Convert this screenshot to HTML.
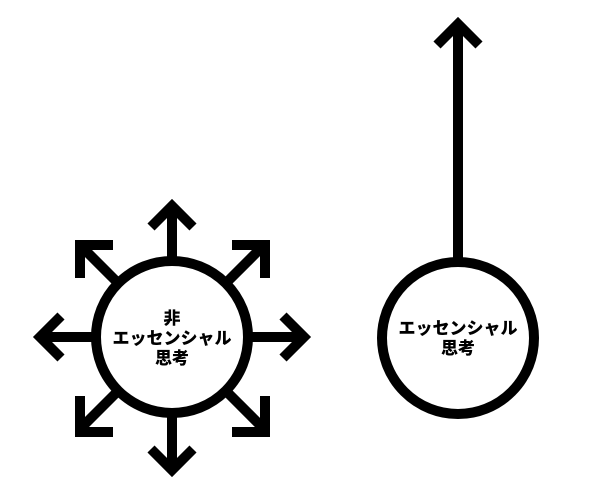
<!DOCTYPE html>
<html><head><meta charset="utf-8"><style>
html,body{margin:0;padding:0;background:#fff;}
svg{display:block}
text{font-family:"Liberation Sans","Noto Sans CJK JP",sans-serif;font-weight:900;font-size:17px;fill:#000;text-anchor:middle}
</style></head><body>
<svg width="600" height="500" viewBox="0 0 600 500">
<g stroke="#000" stroke-width="10" fill="none" stroke-linecap="butt" stroke-linejoin="miter">
<line x1="172" y1="261" x2="172" y2="208"/>
<polyline points="151,227 172,206 193,227"/>
<line x1="172" y1="413" x2="172" y2="468"/>
<polyline points="151,449 172,470 193,449"/>
<line x1="96" y1="337" x2="42" y2="337"/>
<polyline points="61,316 40,337 61,358"/>
<line x1="248" y1="337" x2="302" y2="337"/>
<polyline points="283,316 304,337 283,358"/>
<line x1="118" y1="283" x2="82" y2="247"/>
<polyline points="80,278 80,245 113,245"/>
<line x1="226" y1="283" x2="262" y2="247"/>
<polyline points="232,245 265,245 265,278"/>
<line x1="118" y1="391" x2="82" y2="427"/>
<polyline points="80,396 80,432 113,432"/>
<line x1="226" y1="391" x2="262" y2="427"/>
<polyline points="232,432 265,432 265,396"/>
<circle cx="172" cy="337" r="76" fill="#fff"/>
<line x1="458" y1="262" x2="458" y2="25"/>
<polyline points="437,45 458,24 479,45"/>
<circle cx="458" cy="338" r="76" fill="#fff"/>
</g>
<text x="172" y="324">非</text>
<text x="172" y="344">エッセンシャル</text>
<text x="172" y="364">思考</text>
<text x="458" y="334">エッセンシャル</text>
<text x="458" y="354">思考</text>
</svg>
</body></html>
